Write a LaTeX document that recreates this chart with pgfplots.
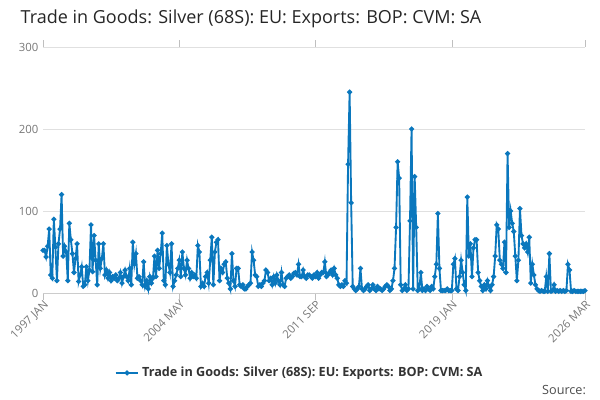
\documentclass[border=0pt]{standalone}
\usepackage{pgfplots}
\usepackage{pgfplotstable}
\pgfplotsset{compat=1.18}
\usepackage{fontspec}
\setmainfont{Open Sans}
\definecolor{ln}{HTML}{0A77BD}
\definecolor{tk}{HTML}{777777}
\pgfplotstableread{
y
52
52
44
57
78
22
18
90
56
15
60
78
120
45
57
50
15
85
65
48
25
42
60
14
22
32
8
10
32
15
28
83
26
70
40
10
60
30
42
60
22
28
18
25
15
20
18
22
15
18
25
12
20
28
20
15
30
10
62
35
48
18
20
15
10
38
8
15
5
20
12
18
45
20
52
30
48
73
15
10
58
35
25
60
8
15
22
30
40
20
50
30
22
40
30
18
25
20
22
18
58
50
8
12
8
20
25
12
40
68
10
50
62
65
15
30
25
35
38
18
12
5
48
15
8
30
30
10
8
10
5
5
8
10
12
50
40
22
20
8
10
8
12
15
28
25
15
18
10
20
12
22
15
10
25
10
8
18
20
22
18
20
24
25
22
35
20
20
28
20
18
22
22
20
18
22
20
25
18
22
25
25
38
20
22
25
28
22
30
22
18
10
8
10
8
15
12
157
245
110
8
5
3
5
8
30
5
3
5
8
10
3
5
10
5
3
8
5
5
3
5
8
10
8
3
5
15
30
80
160
140
10
3
5
10
3
5
88
200
5
142
80
3
5
25
3
5
3
8
5
3
8
5
20
35
97
30
3
3
3
3
5
3
3
3
35
42
5
3
20
40
25
10
3
117
45
60
20
55
65
65
25
15
8
3
10
5
15
8
3
10
20
45
83
78
40
35
30
62
25
170
80
100
85
75
45
15
40
103
70
60
55
60
50
68
12
35
22
10
5
3
2
3
2
2
20
2
48
2
3
10
2
3
2
3
2
3
2
3
35
28
2
2
3
2
2
2
2
2
2
3
}\data
\begin{document}
\begin{tikzpicture}
\path[use as bounding box] (0,0) rectangle (450pt,300pt);
\node[anchor=west,font=\fontsize{13.5pt}{16pt}\selectfont,text=black!85] at (12pt,286pt) {Trade in Goods: Silver (68S): EU: Exports: BOP: CVM: SA};
\begin{axis}[at={(32.25pt,80.25pt)},anchor=south west,scale only axis,
 width=406.5pt,height=184.5pt,
 xmin=0,xmax=350,ymin=0,ymax=300,
 axis line style={draw=none},
 ytick={0,100,200,300},
 ymajorgrids, grid style={draw=black!12},
 xtick={0,88,176,264,350},
 xticklabels={1997 JAN,2004 MAY,2011 SEP,2019 JAN,2026 MAR},
 x tick label style={rotate=45,anchor=north east,text=tk,font=\fontsize{8.5pt}{9pt}\selectfont},
 y tick label style={text=tk,font=\fontsize{8.5pt}{9pt}\selectfont},
 /pgf/number format/assume math mode=true,
 major tick length=0pt,
 extra x ticks={0,88,176,264,350},extra x tick labels={},
 extra x tick style={major tick length=5pt,tick style={draw=black!25},tick align=outside,grid=none},
 clip=false,
 legend style={at={(0.474,-0.325)},anchor=center,draw=none,font=\bfseries\fontsize{9.5pt}{11pt}\selectfont,text=black!80},
 legend cell align=left,
]
\draw[black!20] (axis cs:0,0) -- (axis cs:350,0);
\addplot[ln,line width=1.4pt,mark=*,mark size=1.1pt] table[x expr=\coordindex,y=y]{\data};
\addlegendentry{Trade in Goods: Silver (68S): EU: Exports: BOP: CVM: SA}
\end{axis}
\node[anchor=east,font=\fontsize{9.5pt}{11pt}\selectfont,text=black!70] at (443pt,7.5pt) {Source:};
\end{tikzpicture}
\end{document}
